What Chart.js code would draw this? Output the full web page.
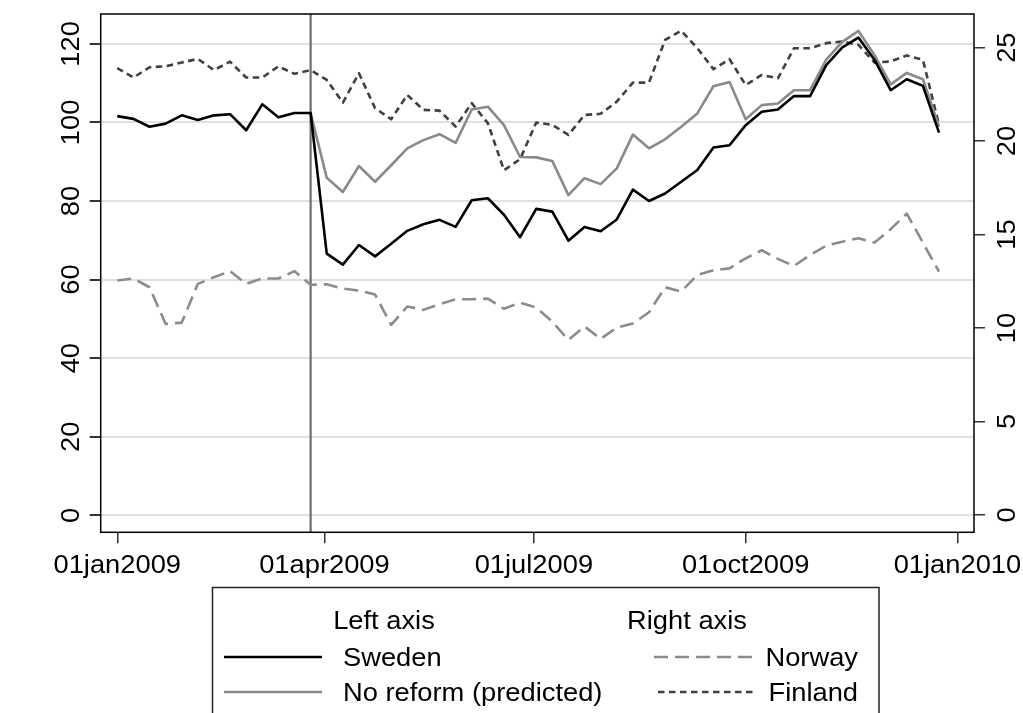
<!DOCTYPE html>
<html>
<head>
<meta charset="utf-8">
<script src="https://cdn.jsdelivr.net/npm/chart.js@4.4.0/dist/chart.umd.min.js"></script>
<style>
  html, body { margin: 0; padding: 0; background: #fff; }
  canvas { display: block; }
</style>
</head>
<body>
<canvas id="chart" width="1023" height="713"></canvas>
<script>
// days since 01jan2009, one point per week
const weekDays = [0, 7, 14, 21, 28, 35, 42, 49, 56, 63, 70, 77, 84, 91, 98, 105, 112, 119, 126, 133,
  140, 147, 154, 161, 168, 175, 182, 189, 196, 203, 210, 217, 224, 231, 238, 245, 252, 259, 266, 273,
  280, 287, 294, 301, 308, 315, 322, 329, 336, 343, 350, 357];

// left axis
const sweden = [101.6, 100.9, 98.9, 99.7, 101.8, 100.6, 101.8, 102.1, 98.0, 104.6, 101.3, 102.4, 102.4,
  66.6, 63.8, 68.8, 65.9, 69.1, 72.4, 74.1, 75.2, 73.4, 80.2, 80.7, 76.5, 70.8,
  78.0, 77.3, 69.9, 73.4, 72.3, 75.3, 82.9, 80.0, 81.9, 84.9, 87.9, 93.6,
  94.2, 99.3, 102.7, 103.3, 106.7, 106.7, 114.6, 119.1, 121.6, 115.9, 108.2, 111.0, 109.3, 97.4];
const noReform = [null, null, null, null, null, null, null, null, null, null, null, null, 102.4,
  85.9, 82.3, 88.9, 84.9, 89.1, 93.4, 95.5, 97.0, 94.8, 103.3, 104.0, 99.3, 91.2,
  91.1, 90.2, 81.5, 85.8, 84.3, 88.3, 96.9, 93.4, 95.7, 98.9, 102.3, 109.2,
  110.3, 100.8, 104.4, 104.8, 108.2, 108.2, 116.0, 120.5, 123.3, 117.1, 109.7, 112.6, 111.0, 98.9];

// right axis
const norway = [12.54, 12.65, 12.18, 10.22, 10.29, 12.36, 12.72, 13.04, 12.36, 12.65, 12.65, 13.04, 12.31,
  12.34, 12.11, 12.0, 11.79, 10.17, 11.15, 10.97, 11.27, 11.54, 11.54, 11.57, 11.03, 11.35,
  11.1, 10.34, 9.36, 10.08, 9.42, 10.02, 10.24, 10.84, 12.18, 11.95, 12.84, 13.09,
  13.19, 13.73, 14.16, 13.7, 13.32, 13.91, 14.4, 14.62, 14.8, 14.57, 15.29, 16.12, 14.57, 13.02];
const finland = [23.9, 23.4, 23.95, 24.0, 24.2, 24.4, 23.8, 24.25, 23.4, 23.4, 24.0, 23.6, 23.8,
  23.27, 22.06, 23.63, 21.76, 21.17, 22.47, 21.67, 21.63, 20.78, 22.03, 20.96, 18.44, 19.03,
  20.99, 20.87, 20.33, 21.4, 21.46, 22.11, 23.13, 23.13, 25.41, 25.91, 24.97, 23.85,
  24.38, 23.0, 23.54, 23.36, 24.97, 24.97, 25.24, 25.33, 25.15, 24.2, 24.26, 24.58, 24.35, 20.87];

const leftTicks = [0, 20, 40, 60, 80, 100, 120];
const rightTicks = [0, 5, 10, 15, 20, 25];
const dateTicks = [0, 90, 181, 273, 365];
const dateLabels = ['01jan2009', '01apr2009', '01jul2009', '01oct2009', '01jan2010'];
const reformDay = 84;

const FONT = '26px "Liberation Sans", Arial, sans-serif';

function toPoints(values) {
  return values.map((v, i) => ({ x: weekDays[i], y: v }));
}

// text slightly widened like the Stata output
function drawText(ctx, text, x, y, align, rotate) {
  ctx.save();
  ctx.translate(x, y);
  if (rotate) ctx.rotate(-Math.PI / 2);
  ctx.scale(1.05, 1);
  ctx.font = FONT;
  ctx.fillStyle = '#000';
  ctx.textAlign = align;
  ctx.textBaseline = 'alphabetic';
  ctx.fillText(text, 0, 0);
  ctx.restore();
}

function legendKey(ctx, x1, x2, y, color, dash) {
  ctx.save();
  ctx.strokeStyle = color;
  ctx.lineWidth = 2.5;
  ctx.setLineDash(dash);
  ctx.beginPath();
  ctx.moveTo(x1, y);
  ctx.lineTo(x2, y);
  ctx.stroke();
  ctx.restore();
}

const decorations = {
  id: 'decorations',
  beforeDatasetsDraw(chart) {
    const { ctx, chartArea, scales } = chart;
    const x = scales.x.getPixelForValue(reformDay);
    ctx.save();
    ctx.strokeStyle = '#6e6e6e';
    ctx.lineWidth = 2.2;
    ctx.beginPath();
    ctx.moveTo(x, chartArea.top);
    ctx.lineTo(x, chartArea.bottom);
    ctx.stroke();
    ctx.restore();
  },
  afterDraw(chart) {
    const { ctx, chartArea, scales } = chart;
    ctx.save();
    ctx.strokeStyle = '#000';
    ctx.lineWidth = 1.5;
    ctx.strokeRect(chartArea.left, chartArea.top, chartArea.right - chartArea.left, chartArea.bottom - chartArea.top);
    ctx.restore();

    dateTicks.forEach((d, i) => {
      drawText(ctx, dateLabels[i], scales.x.getPixelForValue(d), 573, 'center', false);
    });
    leftTicks.forEach(v => {
      drawText(ctx, String(v), 79, scales.y.getPixelForValue(v), 'center', true);
    });
    rightTicks.forEach(v => {
      drawText(ctx, String(v), 1015, scales.y1.getPixelForValue(v), 'center', true);
    });

    // legend
    ctx.save();
    ctx.strokeStyle = '#222';
    ctx.lineWidth = 1.5;
    ctx.strokeRect(212.5, 587.5, 666.5, 200);
    ctx.restore();
    drawText(ctx, 'Left axis', 384, 629, 'center', false);
    drawText(ctx, 'Right axis', 687, 629, 'center', false);
    legendKey(ctx, 224, 322, 657, '#000', []);
    drawText(ctx, 'Sweden', 343, 666, 'left', false);
    legendKey(ctx, 224, 322, 692, '#8a8a8a', []);
    drawText(ctx, 'No reform (predicted)', 343, 701, 'left', false);
    legendKey(ctx, 654, 756, 657, '#8c8c8c', [14, 7]);
    drawText(ctx, 'Norway', 858, 666, 'right', false);
    legendKey(ctx, 658, 756, 692, '#404040', [6.5, 4.5]);
    drawText(ctx, 'Finland', 858, 701, 'right', false);
  }
};

new Chart(document.getElementById('chart'), {
  type: 'line',
  data: {
    datasets: [
      { label: 'Sweden', data: toPoints(sweden), yAxisID: 'y', borderColor: '#000', borderWidth: 2.6 },
      { label: 'No reform (predicted)', data: toPoints(noReform), yAxisID: 'y', borderColor: '#8a8a8a', borderWidth: 2.6 },
      { label: 'Norway', data: toPoints(norway), yAxisID: 'y1', borderColor: '#8c8c8c', borderWidth: 2.6, borderDash: [14, 7] },
      { label: 'Finland', data: toPoints(finland), yAxisID: 'y1', borderColor: '#404040', borderWidth: 2.6, borderDash: [6.5, 4.5] }
    ]
  },
  options: {
    responsive: false,
    animation: false,
    events: [],
    layout: { padding: { top: 14, left: 0, right: 0, bottom: 0 } },
    elements: {
      point: { radius: 0 },
      line: { tension: 0, fill: false, borderJoinStyle: 'round' }
    },
    plugins: {
      legend: { display: false },
      tooltip: { enabled: false }
    },
    scales: {
      x: {
        type: 'linear',
        min: -7.2,
        max: 372.2,
        afterBuildTicks: scale => { scale.ticks = dateTicks.map(v => ({ value: v })); },
        afterFit: scale => { scale.height = 180.7; },
        ticks: { display: false },
        border: { display: false },
        grid: { drawOnChartArea: false, drawTicks: true, tickLength: 11, tickColor: '#333', lineWidth: 1.5 }
      },
      y: {
        position: 'left',
        min: -4.33,
        max: 127.6,
        afterBuildTicks: scale => { scale.ticks = leftTicks.map(v => ({ value: v })); },
        afterFit: scale => { scale.width = 100.7; },
        ticks: { display: false },
        border: { display: false },
        grid: { color: '#e0e0e0', lineWidth: 2, drawTicks: true, tickLength: 11, tickColor: '#333' }
      },
      y1: {
        position: 'right',
        min: -0.93,
        max: 26.8,
        afterBuildTicks: scale => { scale.ticks = rightTicks.map(v => ({ value: v })); },
        afterFit: scale => { scale.width = 49; },
        ticks: { display: false },
        border: { display: false },
        grid: { drawOnChartArea: false, drawTicks: true, tickLength: 11, tickColor: '#333', lineWidth: 1.5 }
      }
    }
  },
  plugins: [decorations]
});
</script>
</body>
</html>
